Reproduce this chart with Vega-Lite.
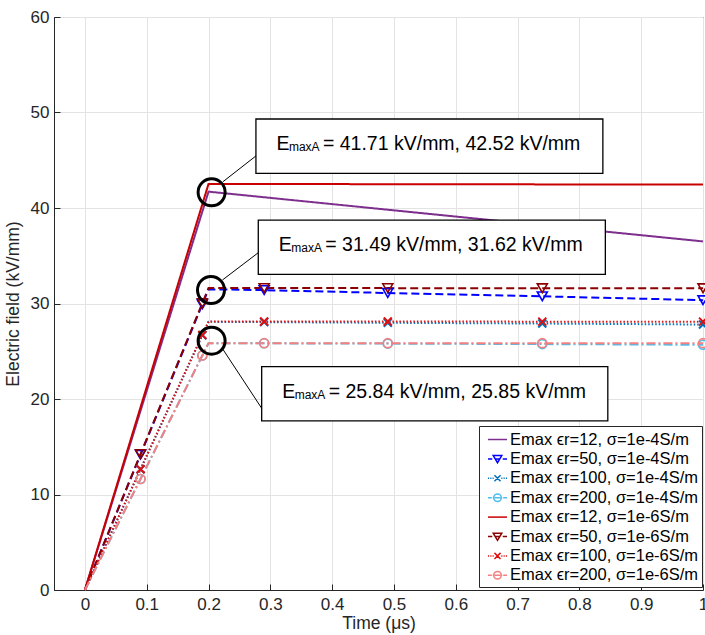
{
  "$schema": "https://vega.github.io/schema/vega-lite/v6.json",
  "width": 649,
  "height": 573,
  "autosize": {"type": "none"},
  "padding": {"left": 54, "top": 17, "right": 2, "bottom": 45},
  "background": "white",
  "datasets": {
    "curves": [
      {"series": "Emax ϵr=12, σ=1e-4S/m", "t": 0, "E": 0},
      {"series": "Emax ϵr=12, σ=1e-4S/m", "t": 0.2, "E": 41.71},
      {"series": "Emax ϵr=12, σ=1e-4S/m", "t": 1.0, "E": 36.5},
      {"series": "Emax ϵr=50, σ=1e-4S/m", "t": 0, "E": 0},
      {"series": "Emax ϵr=50, σ=1e-4S/m", "t": 0.09, "E": 14.17},
      {"series": "Emax ϵr=50, σ=1e-4S/m", "t": 0.19, "E": 29.92},
      {"series": "Emax ϵr=50, σ=1e-4S/m", "t": 0.2, "E": 31.49},
      {"series": "Emax ϵr=50, σ=1e-4S/m", "t": 0.29, "E": 31.4},
      {"series": "Emax ϵr=50, σ=1e-4S/m", "t": 0.49, "E": 31.1},
      {"series": "Emax ϵr=50, σ=1e-4S/m", "t": 0.74, "E": 30.75},
      {"series": "Emax ϵr=50, σ=1e-4S/m", "t": 1.0, "E": 30.35},
      {"series": "Emax ϵr=100, σ=1e-4S/m", "t": 0, "E": 0},
      {"series": "Emax ϵr=100, σ=1e-4S/m", "t": 0.09, "E": 12.64},
      {"series": "Emax ϵr=100, σ=1e-4S/m", "t": 0.19, "E": 26.68},
      {"series": "Emax ϵr=100, σ=1e-4S/m", "t": 0.2, "E": 28.08},
      {"series": "Emax ϵr=100, σ=1e-4S/m", "t": 0.29, "E": 28.05},
      {"series": "Emax ϵr=100, σ=1e-4S/m", "t": 0.49, "E": 27.98},
      {"series": "Emax ϵr=100, σ=1e-4S/m", "t": 0.74, "E": 27.9},
      {"series": "Emax ϵr=100, σ=1e-4S/m", "t": 1.0, "E": 27.8},
      {"series": "Emax ϵr=200, σ=1e-4S/m", "t": 0, "E": 0},
      {"series": "Emax ϵr=200, σ=1e-4S/m", "t": 0.09, "E": 11.63},
      {"series": "Emax ϵr=200, σ=1e-4S/m", "t": 0.19, "E": 24.55},
      {"series": "Emax ϵr=200, σ=1e-4S/m", "t": 0.2, "E": 25.84},
      {"series": "Emax ϵr=200, σ=1e-4S/m", "t": 0.29, "E": 25.83},
      {"series": "Emax ϵr=200, σ=1e-4S/m", "t": 0.49, "E": 25.8},
      {"series": "Emax ϵr=200, σ=1e-4S/m", "t": 0.74, "E": 25.75},
      {"series": "Emax ϵr=200, σ=1e-4S/m", "t": 1.0, "E": 25.68},
      {"series": "Emax ϵr=12, σ=1e-6S/m", "t": 0, "E": 0},
      {"series": "Emax ϵr=12, σ=1e-6S/m", "t": 0.2, "E": 42.52},
      {"series": "Emax ϵr=12, σ=1e-6S/m", "t": 1.0, "E": 42.45},
      {"series": "Emax ϵr=50, σ=1e-6S/m", "t": 0, "E": 0},
      {"series": "Emax ϵr=50, σ=1e-6S/m", "t": 0.09, "E": 14.23},
      {"series": "Emax ϵr=50, σ=1e-6S/m", "t": 0.19, "E": 30.04},
      {"series": "Emax ϵr=50, σ=1e-6S/m", "t": 0.2, "E": 31.62},
      {"series": "Emax ϵr=50, σ=1e-6S/m", "t": 0.29, "E": 31.62},
      {"series": "Emax ϵr=50, σ=1e-6S/m", "t": 0.49, "E": 31.61},
      {"series": "Emax ϵr=50, σ=1e-6S/m", "t": 0.74, "E": 31.6},
      {"series": "Emax ϵr=50, σ=1e-6S/m", "t": 1.0, "E": 31.6},
      {"series": "Emax ϵr=100, σ=1e-6S/m", "t": 0, "E": 0},
      {"series": "Emax ϵr=100, σ=1e-6S/m", "t": 0.09, "E": 12.65},
      {"series": "Emax ϵr=100, σ=1e-6S/m", "t": 0.19, "E": 26.71},
      {"series": "Emax ϵr=100, σ=1e-6S/m", "t": 0.2, "E": 28.12},
      {"series": "Emax ϵr=100, σ=1e-6S/m", "t": 0.29, "E": 28.12},
      {"series": "Emax ϵr=100, σ=1e-6S/m", "t": 0.49, "E": 28.11},
      {"series": "Emax ϵr=100, σ=1e-6S/m", "t": 0.74, "E": 28.1},
      {"series": "Emax ϵr=100, σ=1e-6S/m", "t": 1.0, "E": 28.1},
      {"series": "Emax ϵr=200, σ=1e-6S/m", "t": 0, "E": 0},
      {"series": "Emax ϵr=200, σ=1e-6S/m", "t": 0.09, "E": 11.63},
      {"series": "Emax ϵr=200, σ=1e-6S/m", "t": 0.19, "E": 24.56},
      {"series": "Emax ϵr=200, σ=1e-6S/m", "t": 0.2, "E": 25.85},
      {"series": "Emax ϵr=200, σ=1e-6S/m", "t": 0.29, "E": 25.85},
      {"series": "Emax ϵr=200, σ=1e-6S/m", "t": 0.49, "E": 25.85},
      {"series": "Emax ϵr=200, σ=1e-6S/m", "t": 0.74, "E": 25.85},
      {"series": "Emax ϵr=200, σ=1e-6S/m", "t": 1.0, "E": 25.85}
    ],
    "notes": [
      {"t0": 0.2767, "t1": 0.838, "E0": 43.63, "E1": 49.32, "cx": 0.205, "cy": 41.64, "lx1": 0.2233, "ly1": 42.75, "lx2": 0.2767, "ly2": 45.45, "label": "= 41.71 kV/mm, 42.52 kV/mm"},
      {"t0": 0.2805, "t1": 0.842, "E0": 33.06, "E1": 38.74, "cx": 0.204, "cy": 31.41, "lx1": 0.2225, "ly1": 32.46, "lx2": 0.2805, "ly2": 35.32, "label": "= 31.49 kV/mm, 31.62 kV/mm"},
      {"t0": 0.286, "t1": 0.846, "E0": 17.7, "E1": 23.38, "cx": 0.205, "cy": 26.1, "lx1": 0.2222, "ly1": 25.31, "lx2": 0.286, "ly2": 19.03, "label": "= 25.84 kV/mm, 25.85 kV/mm"}
    ]
  },
  "config": {
    "font": "Liberation Sans",
    "view": {"stroke": "#262626", "strokeWidth": 1},
    "axis": {
      "domainColor": "#262626",
      "tickColor": "#262626",
      "labelColor": "#262626",
      "titleColor": "#262626",
      "gridColor": "#e3e3e3",
      "gridWidth": 1,
      "labelFontSize": 17,
      "titleFontSize": 17.5,
      "titleFontWeight": "normal",
      "labelFlush": false
    },
    "legend": {
      "labelFontSize": 16.5,
      "labelColor": "#000000"
    }
  },
  "layer": [
    {
      "data": {"name": "curves"},
      "mark": {"type": "line", "strokeWidth": 2},
      "encoding": {
        "x": {
          "field": "t", "type": "quantitative", "title": "Time (μs)",
          "scale": {"domain": [-0.05, 1], "nice": false, "zero": false},
          "axis": {
            "values": [0, 0.1, 0.2, 0.3, 0.4, 0.5, 0.6, 0.7, 0.8, 0.9, 1],
            "format": "~g", "grid": true,
            "tickSize": -6, "labelPadding": 12, "titlePadding": 2
          }
        },
        "y": {
          "field": "E", "type": "quantitative", "title": "Electric field (kV/mm)",
          "scale": {"domain": [0, 60], "nice": false},
          "axis": {
            "values": [0, 10, 20, 30, 40, 50, 60], "grid": true,
            "tickSize": -6, "labelPadding": 11, "titlePadding": 8
          }
        },
        "color": {
          "field": "series", "type": "nominal", "legend": null,
          "scale": {
            "domain": ["Emax ϵr=12, σ=1e-6S/m", "Emax ϵr=50, σ=1e-6S/m", "Emax ϵr=100, σ=1e-6S/m", "Emax ϵr=200, σ=1e-6S/m", "Emax ϵr=12, σ=1e-4S/m", "Emax ϵr=50, σ=1e-4S/m", "Emax ϵr=100, σ=1e-4S/m", "Emax ϵr=200, σ=1e-4S/m"],
            "range": ["#C80000", "#8B0000", "#E01010", "#F48080", "#7E2F8E", "#0000FF", "#0072BD", "#4DBEEE"]
          }
        },
        "strokeDash": {
          "field": "series", "type": "nominal", "legend": null,
          "scale": {
            "domain": ["Emax ϵr=12, σ=1e-6S/m", "Emax ϵr=50, σ=1e-6S/m", "Emax ϵr=100, σ=1e-6S/m", "Emax ϵr=200, σ=1e-6S/m", "Emax ϵr=12, σ=1e-4S/m", "Emax ϵr=50, σ=1e-4S/m", "Emax ϵr=100, σ=1e-4S/m", "Emax ϵr=200, σ=1e-4S/m"],
            "range": [[1, 0], [8, 4], [1.5, 2], [9, 3, 2, 3], [1, 0], [8, 4], [1.5, 2], [9, 3, 2, 3]]
          }
        }
      }
    },
    {
      "data": {"name": "curves"},
      "transform": [
        {"filter": {"field": "series", "oneOf": ["Emax ϵr=50, σ=1e-4S/m", "Emax ϵr=50, σ=1e-6S/m"]}},
        {"filter": "datum.t != 0 && datum.t != 0.2"}
      ],
      "mark": {"type": "point", "shape": "triangle-down", "filled": false, "size": 100, "strokeWidth": 1.6, "opacity": 1},
      "encoding": {
        "x": {"field": "t", "type": "quantitative", "title": "Time (μs)"},
        "y": {"field": "E", "type": "quantitative", "title": "Electric field (kV/mm)"},
        "color": {"field": "series", "type": "nominal", "legend": null}
      }
    },
    {
      "data": {"name": "curves"},
      "transform": [
        {"filter": {"field": "series", "oneOf": ["Emax ϵr=100, σ=1e-4S/m", "Emax ϵr=100, σ=1e-6S/m"]}},
        {"filter": "datum.t != 0 && datum.t != 0.2"}
      ],
      "mark": {"type": "point", "shape": "M-1,-1L1,1M-1,1L1,-1", "filled": false, "size": 64, "strokeWidth": 2, "opacity": 1},
      "encoding": {
        "x": {"field": "t", "type": "quantitative", "title": "Time (μs)"},
        "y": {"field": "E", "type": "quantitative", "title": "Electric field (kV/mm)"},
        "color": {"field": "series", "type": "nominal", "legend": null}
      }
    },
    {
      "data": {"name": "curves"},
      "transform": [
        {"filter": {"field": "series", "oneOf": ["Emax ϵr=200, σ=1e-4S/m", "Emax ϵr=200, σ=1e-6S/m"]}},
        {"filter": "datum.t != 0 && datum.t != 0.2"}
      ],
      "mark": {"type": "point", "shape": "circle", "filled": false, "size": 81, "strokeWidth": 1.6, "opacity": 1},
      "encoding": {
        "x": {"field": "t", "type": "quantitative", "title": "Time (μs)"},
        "y": {"field": "E", "type": "quantitative", "title": "Electric field (kV/mm)"},
        "color": {"field": "series", "type": "nominal", "legend": null}
      }
    },
    {
      "data": {"name": "curves"},
      "mark": {"type": "point", "filled": false, "strokeWidth": 1.5, "size": 0, "opacity": 1},
      "encoding": {
        "x": {"field": "t", "type": "quantitative", "title": "Time (μs)"},
        "y": {"field": "E", "type": "quantitative", "title": "Electric field (kV/mm)"},
        "stroke": {
          "field": "series", "type": "nominal",
          "scale": {
            "domain": ["Emax ϵr=12, σ=1e-4S/m", "Emax ϵr=50, σ=1e-4S/m", "Emax ϵr=100, σ=1e-4S/m", "Emax ϵr=200, σ=1e-4S/m", "Emax ϵr=12, σ=1e-6S/m", "Emax ϵr=50, σ=1e-6S/m", "Emax ϵr=100, σ=1e-6S/m", "Emax ϵr=200, σ=1e-6S/m"],
            "range": ["#7E2F8E", "#0000FF", "#0072BD", "#4DBEEE", "#C80000", "#8B0000", "#E01010", "#F48080"]
          },
          "legend": {
            "title": null, "orient": "none", "legendX": 425, "legendY": 409,
            "padding": 3, "strokeColor": "#262626", "fillColor": "white",
            "symbolSize": 361, "symbolStrokeWidth": 1.5, "symbolOffset": 5, "rowPadding": 0.4,
            "labelOffset": 2, "labelLimit": 300, "labelFontSize": 16.5
          }
        },
        "shape": {
          "field": "series", "type": "nominal",
          "scale": {
            "domain": ["Emax ϵr=12, σ=1e-4S/m", "Emax ϵr=50, σ=1e-4S/m", "Emax ϵr=100, σ=1e-4S/m", "Emax ϵr=200, σ=1e-4S/m", "Emax ϵr=12, σ=1e-6S/m", "Emax ϵr=50, σ=1e-6S/m", "Emax ϵr=100, σ=1e-6S/m", "Emax ϵr=200, σ=1e-6S/m"],
            "range": [
              "M-1,0H1",
              "M-1,0H-0.55M-0.25,0H0.25M0.55,0H1M-0.45,-0.35H0.45L0,0.4Z",
              "M-1,0H-0.88M-0.76,0H-0.64M-0.52,0H-0.4M0.4,0H0.52M0.64,0H0.76M0.88,0H1M-0.32,-0.32L0.32,0.32M-0.32,0.32L0.32,-0.32",
              "M-1,0H-0.6M-0.5,0H-0.44M-0.3,0H0.3M0.44,0H0.5M0.6,0H1M-0.4,0A0.4,0.4 0 1,0 0.4,0A0.4,0.4 0 1,0 -0.4,0",
              "M-1,0H1",
              "M-1,0H-0.55M-0.25,0H0.25M0.55,0H1M-0.45,-0.35H0.45L0,0.4Z",
              "M-1,0H-0.88M-0.76,0H-0.64M-0.52,0H-0.4M0.4,0H0.52M0.64,0H0.76M0.88,0H1M-0.32,-0.32L0.32,0.32M-0.32,0.32L0.32,-0.32",
              "M-1,0H-0.6M-0.5,0H-0.44M-0.3,0H0.3M0.44,0H0.5M0.6,0H1M-0.4,0A0.4,0.4 0 1,0 0.4,0A0.4,0.4 0 1,0 -0.4,0"
            ]
          }
        }
      }
    },
    {
      "data": {"name": "notes"},
      "mark": {"type": "rect", "fill": "white", "stroke": "#000000", "strokeWidth": 1.3},
      "encoding": {
        "x": {"field": "t0", "type": "quantitative", "title": "Time (μs)"},
        "x2": {"field": "t1"},
        "y": {"field": "E0", "type": "quantitative", "title": "Electric field (kV/mm)"},
        "y2": {"field": "E1"}
      }
    },
    {
      "data": {"name": "notes"},
      "mark": {"type": "rule", "stroke": "#000000", "strokeWidth": 1},
      "encoding": {
        "x": {"field": "lx1", "type": "quantitative", "title": "Time (μs)"},
        "x2": {"field": "lx2"},
        "y": {"field": "ly1", "type": "quantitative", "title": "Electric field (kV/mm)"},
        "y2": {"field": "ly2"}
      }
    },
    {
      "data": {"name": "notes"},
      "mark": {"type": "point", "shape": "circle", "filled": false, "size": 729, "strokeWidth": 3, "color": "#000000", "opacity": 1},
      "encoding": {
        "x": {"field": "cx", "type": "quantitative", "title": "Time (μs)"},
        "y": {"field": "cy", "type": "quantitative", "title": "Electric field (kV/mm)"}
      }
    },
    {
      "data": {"name": "notes"},
      "mark": {"type": "text", "text": "E", "align": "left", "baseline": "alphabetic", "fontSize": 19.5, "dx": 20.5, "dy": -23, "color": "#000000"},
      "encoding": {
        "x": {"field": "t0", "type": "quantitative", "title": "Time (μs)"},
        "y": {"field": "E0", "type": "quantitative", "title": "Electric field (kV/mm)"}
      }
    },
    {
      "data": {"name": "notes"},
      "mark": {"type": "text", "text": "maxA", "align": "left", "baseline": "alphabetic", "fontSize": 12, "dx": 33, "dy": -22, "color": "#000000"},
      "encoding": {
        "x": {"field": "t0", "type": "quantitative", "title": "Time (μs)"},
        "y": {"field": "E0", "type": "quantitative", "title": "Electric field (kV/mm)"}
      }
    },
    {
      "data": {"name": "notes"},
      "mark": {"type": "text", "align": "left", "baseline": "alphabetic", "fontSize": 19.5, "dx": 67, "dy": -23, "color": "#000000"},
      "encoding": {
        "x": {"field": "t0", "type": "quantitative", "title": "Time (μs)"},
        "y": {"field": "E0", "type": "quantitative", "title": "Electric field (kV/mm)"},
        "text": {"field": "label"}
      }
    }
  ]
}
